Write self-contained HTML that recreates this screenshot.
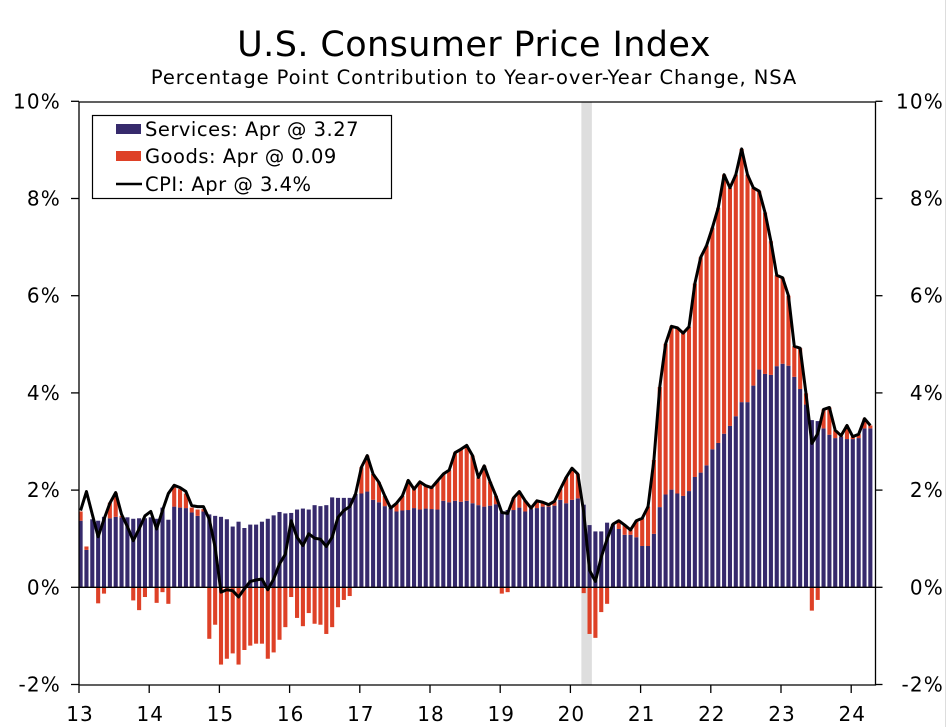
<!DOCTYPE html>
<html><head><meta charset="utf-8"><style>
html,body{margin:0;padding:0;background:#fff;}
#wrap{position:relative;width:947px;height:727px;overflow:hidden;}
svg text{font-family:"DejaVu Sans","Liberation Sans",sans-serif;}
</style></head><body>
<div id="wrap">
<svg id="chart" width="947" height="727" viewBox="0 0 947 727">
<rect x="0" y="0" width="947" height="727" fill="#fff"/>
<line x1="945.5" y1="0" x2="945.5" y2="727" stroke="#ddd" stroke-width="1"/>
<text x="474" y="56" font-size="35" letter-spacing="0.4" text-anchor="middle" fill="#000">U.S. Consumer Price Index</text>
<text x="474" y="84" font-size="19.5" letter-spacing="0.9" text-anchor="middle" fill="#000">Percentage Point Contribution to Year-over-Year Change, NSA</text>
<g id="recession"></g>
<g id="bars"></g>
<g id="axes"></g>
<path id="cpiline" fill="none" stroke="#000" stroke-width="3" stroke-linejoin="round"/>
<g>
<rect x="92.5" y="115.5" width="299" height="83" fill="#fff" stroke="#000" stroke-width="1.2"/>
<rect x="116" y="124" width="25" height="10" fill="#362a6c"/>
<text x="145" y="136" font-size="19.5" letter-spacing="0.5">Services: Apr @ 3.27</text>
<rect x="116" y="151" width="25" height="10" fill="#de4127"/>
<text x="145" y="163" font-size="19.5" letter-spacing="0.5">Goods: Apr @ 0.09</text>
<line x1="116" y1="184" x2="142" y2="184" stroke="#000" stroke-width="2.5"/>
<text x="145" y="191" font-size="19.5" letter-spacing="0.5">CPI: Apr @ 3.4%</text>
</g>
</svg>
</div>
<script>
const yTickVals=[-2,0,2,4,6,8,10];
const yTickLabels=["-2%","0%","2%","4%","6%","8%","10%"];
const yearLabels=["13","14","15","16","17","18","19","20","21","22","23","24"];
const services=[1.37,0.77,1.40,1.37,1.45,1.42,1.45,1.44,1.44,1.41,1.42,1.42,
1.44,1.41,1.64,1.39,1.66,1.64,1.63,1.54,1.47,1.56,1.50,1.47,
1.45,1.40,1.25,1.35,1.22,1.29,1.29,1.35,1.41,1.48,1.55,1.52,
1.53,1.60,1.62,1.60,1.69,1.67,1.69,1.85,1.84,1.84,1.84,1.92,
1.93,1.97,1.80,1.75,1.67,1.63,1.56,1.58,1.59,1.63,1.60,1.62,
1.61,1.60,1.78,1.75,1.78,1.76,1.78,1.73,1.69,1.66,1.68,1.71,
1.54,1.59,1.59,1.64,1.56,1.61,1.63,1.66,1.66,1.68,1.80,1.73,
1.80,1.83,1.70,1.28,1.15,1.15,1.33,1.30,1.20,1.08,1.08,1.03,
0.85,0.85,1.10,1.65,1.91,2.01,1.93,1.88,1.98,2.27,2.36,2.51,
2.84,2.97,3.16,3.32,3.52,3.81,3.81,4.15,4.48,4.39,4.37,4.55,
4.60,4.56,4.33,4.08,3.76,3.44,3.42,3.27,3.14,3.07,3.10,3.05,
3.05,3.07,3.27,3.27];
const goods=[0.19,0.07,0,-0.33,-0.13,0.32,0.49,0.03,0,-0.27,-0.47,-0.2,
0,-0.32,-0.1,-0.34,0.44,0.38,0.3,0.1,0.13,0.05,-1.06,-0.77,
-1.59,-1.47,-1.36,-1.59,-1.29,-1.2,-1.16,-1.16,-1.47,-1.34,-1.08,-0.82,
-0.2,-0.63,-0.8,-0.53,-0.75,-0.77,-0.96,-0.82,-0.41,-0.26,-0.18,0,
0.54,0.74,0.53,0.41,0.21,0,0.17,0.30,0.61,0.39,0.57,0.47,
0.44,0.59,0.55,0.66,0.99,1.08,1.14,0.98,0.57,0.84,0.49,0.17,
-0.13,-0.1,0.25,0.33,0.22,0.02,0.15,0.09,0.04,0.09,0.22,0.53,
0.65,0.5,-0.12,-0.96,-1.04,-0.51,-0.34,0,0.15,0.2,0.1,0.34,
0.57,0.81,1.52,2.47,3.1,3.36,3.41,3.35,3.38,3.98,4.43,4.52,
4.56,4.84,5.33,4.9,4.97,5.21,4.68,4.07,3.67,3.32,2.75,1.87,
1.77,1.44,0.63,0.84,0.23,-0.48,-0.26,0.39,0.56,0.16,0.02,0.28,
0.05,0.08,0.2,0.06];
const cpi=[1.58,1.97,1.5,1.04,1.40,1.73,1.95,1.5,1.25,0.96,1.2,1.47,
1.56,1.2,1.58,1.93,2.1,2.05,1.97,1.68,1.66,1.66,1.4,0.82,
-0.1,-0.05,-0.07,-0.2,-0.03,0.12,0.15,0.17,-0.05,0.17,0.48,0.68,
1.37,1.03,0.86,1.1,1.01,0.99,0.84,1.03,1.44,1.58,1.66,1.92,
2.47,2.71,2.33,2.16,1.88,1.63,1.73,1.88,2.2,2.02,2.17,2.09,
2.05,2.19,2.33,2.41,2.77,2.84,2.92,2.71,2.26,2.5,2.17,1.88,
1.54,1.52,1.84,1.97,1.78,1.63,1.78,1.75,1.7,1.77,2.02,2.26,
2.45,2.33,1.55,0.35,0.12,0.62,0.99,1.3,1.37,1.28,1.18,1.37,
1.42,1.66,2.62,4.12,5.01,5.37,5.34,5.23,5.36,6.25,6.79,7.03,
7.40,7.81,8.49,8.22,8.49,9.02,8.49,8.22,8.15,7.71,7.12,6.42,
6.37,6.0,4.96,4.92,3.99,2.96,3.16,3.66,3.70,3.23,3.12,3.33,
3.10,3.15,3.47,3.33];
const recessionStart=85.6, recessionEnd=87.4;

const NS="http://www.w3.org/2000/svg";
const L=79,R=875.5,T=102,B=685;
function xc(i){return 80.6+i*5.85;}
function yv(v){return 587.3-v*48.6;}
function mk(tag,attrs,parent){const e=document.createElementNS(NS,tag);for(const k in attrs)e.setAttribute(k,attrs[k]);parent.appendChild(e);return e;}
const bars=document.getElementById('bars');
const axes=document.getElementById('axes');
const rec=document.getElementById('recession');
const r=mk('rect',{x:xc(recessionStart),y:T,width:xc(recessionEnd)-xc(recessionStart),height:B-T,fill:'#dedede'},rec);


const bw=4.1;
for(let i=0;i<services.length;i++){
  const s=services[i],g=goods[i];
  const sb=mk('rect',{x:xc(i)-bw/2,y:yv(Math.max(s,0)),width:bw,height:Math.abs(yv(s)-yv(0)),fill:'#362a6c'},bars);
  
  
  let y0,y1;
  if(g>=0){y1=yv(s);y0=yv(s+g);}else{y0=yv(0);y1=yv(g);}
  const gb=mk('rect',{x:xc(i)-bw/2,y:Math.min(y0,y1),width:bw,height:Math.abs(y1-y0),fill:'#de4127'},bars);
  
  
}
let d='';
cpi.forEach((v,i)=>{d+=(i?'L':'M')+xc(i).toFixed(2)+' '+yv(v).toFixed(2);});
document.getElementById('cpiline').setAttribute('d',d);
const frame=mk('path',{d:`M${L} ${B}V${T}H${R}V${B}H${L}`,fill:'none',stroke:'#000','stroke-width':1.3},axes);


const zl=mk('line',{x1:L,x2:R,y1:yv(0),y2:yv(0),stroke:'#000','stroke-width':1.3},axes);


yTickVals.forEach((v,k)=>{
  const y=yv(v);
  const t1=mk('line',{x1:L-8,x2:L,y1:y,y2:y,stroke:'#000','stroke-width':1.3},axes);
  
  
  const t2=mk('line',{x1:R,x2:R+7,y1:y,y2:y,stroke:'#000','stroke-width':1.3},axes);
  
  
  const a=mk('text',{x:61,y:y+7,'font-size':20,'letter-spacing':1.2,'text-anchor':'end'},axes);
  a.textContent=yTickLabels[k];
  
  
  const b=mk('text',{x:944,y:y+7,'font-size':20,'letter-spacing':1.2,'text-anchor':'end'},axes);
  b.textContent=yTickLabels[k];
  
  
});
yearLabels.forEach((lab,k)=>{
  const x=79+k*70.2;
  const t=mk('line',{x1:x,x2:x,y1:B,y2:B+8,stroke:'#000','stroke-width':1.3},axes);
  
  
  const tx=mk('text',{x:x+1,y:721,'font-size':20,'letter-spacing':1,'text-anchor':'middle'},axes);
  tx.textContent=lab;
  
  
});
</script>
</body></html>
